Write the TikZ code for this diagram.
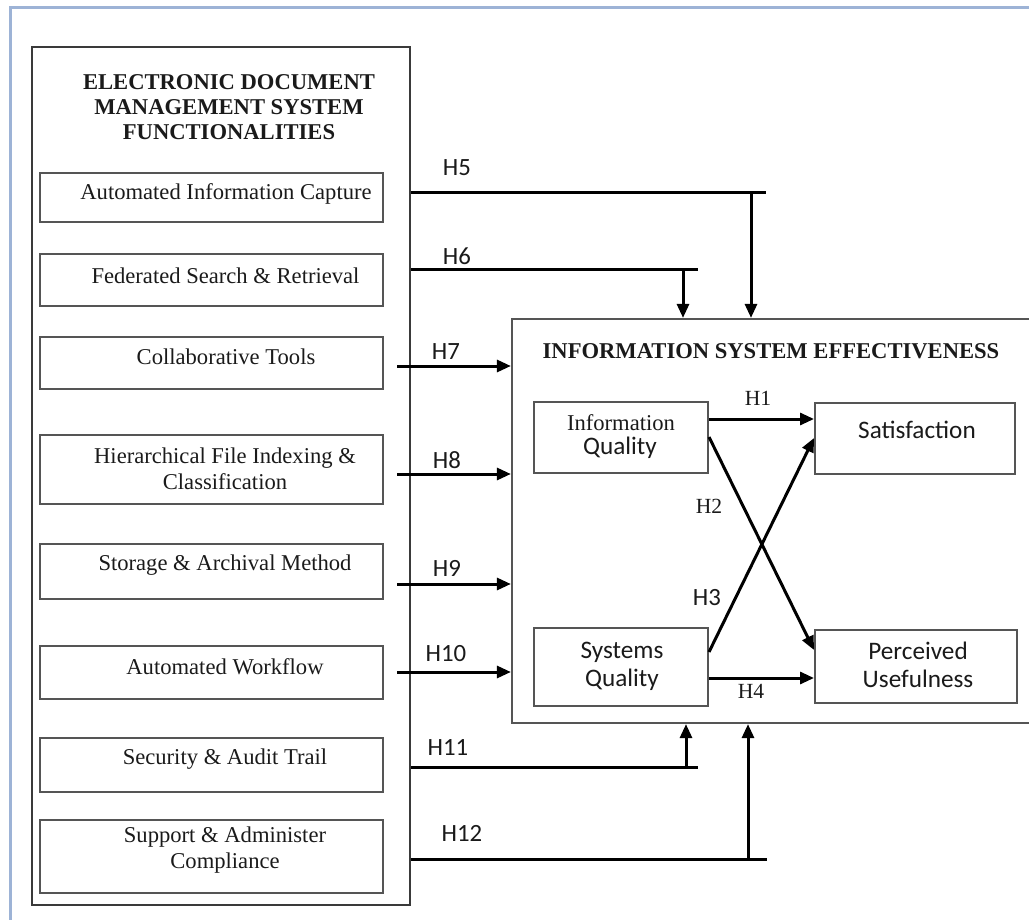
\documentclass[tikz,border=0pt]{standalone}
\usepackage{fontspec}
\setmainfont{Liberation Serif}
\newfontfamily\sansf{Carlito}
\usetikzlibrary{arrows.meta,calc}
\definecolor{framebl}{HTML}{9DB3D6}
\definecolor{boxgray}{HTML}{555555}
\definecolor{outgray}{HTML}{3A3A3A}
\definecolor{txt}{HTML}{1A1A1A}
\begin{document}
\begin{tikzpicture}[x=0.5pt,y=-0.5pt,
  fbox/.style={draw=boxgray,line width=1pt,inner sep=0pt,minimum width=171.5pt},
  qbox/.style={draw=boxgray,line width=1pt,inner sep=0pt},
  stxt/.style={font=\fontsize{11.3}{13}\selectfont,text=txt,inner sep=0pt,align=center},
  ttl/.style={font=\bfseries\fontsize{11.3}{12.5}\selectfont,text=txt,inner sep=0pt,align=center},
  ssans/.style={font=\sansf\fontsize{12.6}{14}\selectfont,text=txt,inner sep=0pt,align=center},
  hs/.style={font=\sansf\fontsize{12.4}{14}\selectfont,text=txt,inner sep=0pt},
  hr/.style={font=\fontsize{10.8}{12}\selectfont,text=txt,inner sep=0pt},
  ln/.style={draw=black,line width=1.5pt},
  arr/.style={draw=black,line width=1.5pt,-{Triangle[length=7pt,width=6pt]}}
]
\useasboundingbox (0,0) rectangle (1029,920);
\clip (0,0) rectangle (1029,920);
% outer light-blue frame
\draw[framebl,line width=1.5pt] (10,925) -- (10,8) -- (1035,8);

% left container
\node[draw=outgray,line width=1.1pt,inner sep=0pt,minimum width=189pt,minimum height=429pt] (ebox) at (221,476) {};
\node[ttl] (ettl) at (229,107) {ELECTRONIC DOCUMENT\\MANAGEMENT SYSTEM\\FUNCTIONALITIES};

\node[fbox,minimum height=24.5pt] (b1) at (211.5,197.5) {};
\node[fbox,minimum height=26pt] (b2) at (211.5,280) {};
\node[fbox,minimum height=26pt] (b3) at (211.5,363) {};
\node[fbox,minimum height=34.5pt] (b4) at (211.5,469.5) {};
\node[fbox,minimum height=27.5pt] (b5) at (211.5,571.5) {};
\node[fbox,minimum height=26.5pt] (b6) at (211.5,672.5) {};
\node[fbox,minimum height=27pt] (b7) at (211.5,765) {};
\node[fbox,minimum height=36.5pt] (b8) at (211.5,856.5) {};

\node[stxt] (t1) at (226,194) {Automated Information Capture};
\node[stxt] (t2) at (225.5,276) {Federated Search \& Retrieval};
\node[stxt] (t3) at (226,357) {Collaborative Tools};
\node[stxt] (t4) at (225,469) {Hierarchical File Indexing \&\\Classification};
\node[stxt] (t5) at (225,565) {Storage \& Archival Method};
\node[stxt] (t6) at (225,667) {Automated Workflow};
\node[stxt] (t7) at (225,759) {Security \& Audit Trail};
\node[stxt] (t8) at (225,850) {Support \& Administer\\Compliance};

% right container
\node[draw=boxgray,line width=1.1pt,inner sep=0pt,minimum width=264pt,minimum height=202pt] (ise) at (776,521) {};
\node[ttl] (isettl) at (771,351) {INFORMATION SYSTEM EFFECTIVENESS};

\node[qbox,minimum width=87pt,minimum height=35.5pt] (iq) at (621,437.5) {};
\node[qbox,minimum width=100pt,minimum height=35.5pt] (sat) at (915,438.5) {};
\node[qbox,minimum width=87pt,minimum height=39pt] (sq) at (621,667) {};
\node[qbox,minimum width=101pt,minimum height=36.5pt] (pu) at (916,666.5) {};

\node[stxt] (iqt1) at (621,423) {Information};
\node[ssans] (iqt2) at (620,448) {Quality};
\node[ssans] (satt) at (917,430) {Satisfaction};
\node[ssans] (sqt) at (622,666.5) {Systems\\Quality};
\node[ssans] (put) at (918,665) {Perceived\\Usefulness};

% internal arrows
\draw[arr] (iq.east |- 0,419) -- (sat.west |- 0,419);
\draw[arr] (iq.east |- 0,437) -- (pu.west |- 0,650);
\draw[arr] (sq.east |- 0,652) -- (sat.west |- 0,438);
\draw[arr] (sq.east |- 0,678) -- (pu.west |- 0,678);
\node[hr] (lh1) at (758,398) {H1};
\node[hr] (lh2) at (709,506) {H2};
\node[hs] (lh3) at (707,598) {H3};
\node[hr] (lh4) at (751,691) {H4};

% H5, H6 from top
\coordinate (h5e) at (766,193);
\coordinate (h5d) at (751,193);
\draw[ln] (ebox.east |- h5e) -- (h5e);
\draw[arr] (h5d) -- (h5d |- ise.north);
\coordinate (h6e) at (698,269);
\coordinate (h6d) at (683,269);
\draw[ln] (ebox.east |- h6e) -- (h6e);
\draw[arr] (h6d) -- (h6d |- ise.north);
\node[hs] (lh5) at (457,168) {H5};
\node[hs] (lh6) at (457,256) {H6};

% H7-H10 straight
\coordinate (h7s) at (397,366);
\coordinate (h8s) at (397,474);
\coordinate (h9s) at (397,584);
\coordinate (h10s) at (397,672);
\draw[arr] (h7s) -- (h7s -| ise.west);
\draw[arr] (h8s) -- (h8s -| ise.west);
\draw[arr] (h9s) -- (h9s -| ise.west);
\draw[arr] (h10s) -- (h10s -| ise.west);
\node[hs] (lh7) at (446,352) {H7};
\node[hs] (lh8) at (447,460) {H8};
\node[hs] (lh9) at (447,568) {H9};
\node[hs] (lh10) at (446,654) {H10};

% H11, H12 from bottom
\coordinate (h11e) at (698,767);
\coordinate (h11u) at (686,767);
\draw[ln] (ebox.east |- h11e) -- (h11e);
\draw[arr] (h11u) -- (h11u |- ise.south);
\coordinate (h12e) at (767,859);
\coordinate (h12u) at (748,859);
\draw[ln] (ebox.east |- h12e) -- (h12e);
\draw[arr] (h12u) -- (h12u |- ise.south);
\node[hs] (lh11) at (448,748) {H11};
\node[hs] (lh12) at (462,833) {H12};
\end{tikzpicture}
\end{document}
